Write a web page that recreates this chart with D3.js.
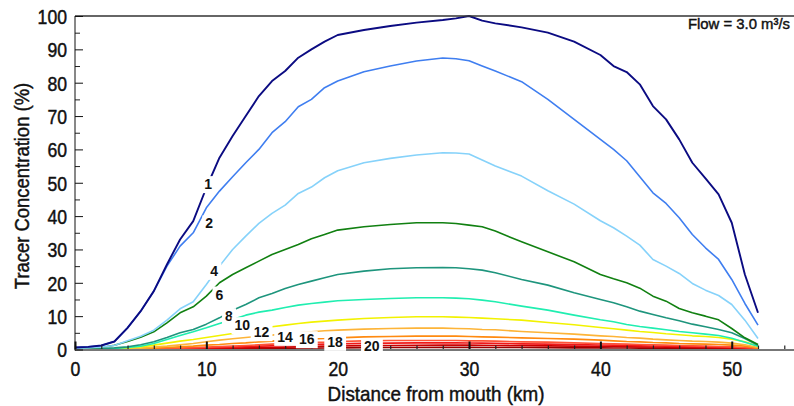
<!DOCTYPE html>
<html>
<head>
<meta charset="utf-8">
<script src="https://cdn.jsdelivr.net/npm/d3@7"></script>
<style>
  html, body { margin: 0; padding: 0; background: #fff; }
  svg { display: block; }
  .cond { font-family: "Liberation Sans", Arial, sans-serif; stroke: #111; stroke-width: 0.45px; }
</style>
</head>
<body>
<svg id="chart" width="794" height="406"></svg>
<script>
// Distance along the estuary (km) at which the tracer was sampled
const distanceKm = [0,1,2,3,4,5,6,7,8,9,10,11,12,13,14,15,16,17,18,19,20,
                    22,24,26,28,29,30,31,32,34,36,38,40,
                    41,42,43,44,45,46,47,48,49,50,51,52];

// Tracer concentration (%) for each contour (day number)
const conc1  = [0.6,0.8,1.2,2.4,6.5,11.5,17.5,25.5,33,38.5,48.5,57.5,64,70,76,80.5,83.5,87.5,90,92.3,94.3,
                95.8,97,98,98.8,99.3,100,98.6,97.8,96.6,95,92.3,88.3,
                85,83.2,79.5,73,69,63,56,51.3,46.5,38,22.5,11];
const conc2  = [0.6,0.8,1.2,2.4,6.5,11.5,17.5,25,31,35,42.5,47.5,51.8,56,60,65,68.3,72.8,75,78.5,80.5,
                83.3,85,86.5,87.4,87.2,86.6,85,83.5,80.3,75,69,63,
                60,56.6,51.8,47,43.8,39.5,34.5,30.5,27,21,13.8,7.3];
const conc4  = [0.4,0.5,0.7,1.2,2.6,4,5.8,8.8,12.2,14.3,19.5,25,30,34,37.8,40.8,43.3,46.8,48.7,51.5,53.6,
                56,57.3,58.3,59,58.9,58.6,56.8,55,52,47.6,43.6,38.6,
                36.5,34,31.3,27,25,22.8,19.8,17.8,16.2,13.5,8.8,3.3];
const conc6  = [0.2,0.3,0.6,1.3,2.4,3.7,5.3,8,11,12.8,16,20,22.5,24.5,26.5,28.5,30,31.5,33.2,34.5,35.8,
                36.8,37.5,38,38,37.8,37.3,36.8,35.5,32.3,29.3,26.3,22.5,
                21.2,20,18.4,16,14.5,12.3,11,10,8.9,6.3,3.5,1.5];
const conc8  = [0.1,0.2,0.3,0.5,0.8,1.4,2.3,3.6,5,6,7.6,9.5,11.8,13.5,15.5,16.8,18.3,19.5,20.5,21.5,22.5,
                23.5,24.2,24.5,24.6,24.5,24.2,23.8,23,21,19.3,17,15,
                14,12.8,11.5,10.5,9.5,8.6,7.6,6.8,6,5,3.3,1.3];
const conc10 = [0.1,0.1,0.2,0.3,0.6,1,1.8,3,4.2,5.3,6.5,7.8,9,10.3,11.2,11.8,12.6,13.3,13.8,14.2,14.6,
                15,15.3,15.5,15.5,15.4,15.2,14.8,14.3,13,11.8,10.3,8.9,
                8.3,7.5,6.9,6.4,5.9,5.4,5,4.6,4.2,3.4,2.2,1];
const conc12 = [0,0.05,0.1,0.2,0.5,0.8,1.3,1.9,2.5,3,3.6,4.2,4.8,5.5,6.2,6.8,7.3,7.8,8.2,8.5,8.8,
                9.3,9.6,9.8,9.8,9.7,9.6,9.4,9.2,8.8,8.1,7.4,6.6,
                6.2,5.8,5.4,5.1,4.7,4.4,4.1,3.9,3.6,3.1,2.3,1];
const conc14 = [0,0,0.05,0.1,0.2,0.4,0.7,1,1.4,1.8,2.3,2.8,3.2,3.6,4,4.3,4.7,5,5.3,5.6,5.8,
                6.1,6.3,6.4,6.4,6.3,6.2,6,5.9,5.4,5,4.6,4.1,
                3.9,3.6,3.4,3.1,2.9,2.7,2.5,2.4,2.2,1.9,1.4,0.6];
const conc16 = [0,0,0,0.05,0.1,0.2,0.4,0.6,0.8,1,1.3,1.5,1.8,2,2.3,2.5,2.8,3,3.2,3.3,3.5,
                3.8,3.9,4,4,4,3.9,3.8,3.7,3.5,3.3,3.1,2.8,
                2.6,2.4,2.3,2.1,2,1.8,1.7,1.6,1.5,1.3,1,0.4];
const conc18 = [0,0,0,0,0.05,0.1,0.2,0.3,0.4,0.55,0.7,0.85,1,1.2,1.4,1.6,1.8,1.9,2.1,2.2,2.4,
                2.6,2.7,2.7,2.7,2.7,2.6,2.6,2.5,2.3,2.2,2,1.8,
                1.7,1.6,1.5,1.4,1.3,1.2,1.1,1,0.9,0.8,0.6,0.3];
const conc20 = [0,0,0,0,0,0.05,0.1,0.2,0.3,0.4,0.5,0.6,0.7,0.85,1,1.1,1.2,1.35,1.5,1.6,1.7,
                1.85,1.9,2,2,2,1.95,1.9,1.85,1.7,1.6,1.5,1.35,
                1.3,1.2,1.1,1.05,1,0.9,0.85,0.8,0.7,0.6,0.45,0.2];
const conc22 = [0,0,0,0,0,0,0.05,0.1,0.15,0.2,0.25,0.3,0.4,0.5,0.55,0.6,0.7,0.8,0.9,1,1.05,
                1.15,1.2,1.25,1.3,1.3,1.3,1.25,1.2,1.15,1.1,1,0.95,
                0.9,0.85,0.8,0.75,0.7,0.65,0.6,0.55,0.5,0.4,0.3,0.1];
const conc24 = [0,0,0,0,0,0,0,0.05,0.05,0.1,0.1,0.15,0.2,0.2,0.25,0.3,0.3,0.35,0.4,0.45,0.5,
                0.55,0.6,0.6,0.65,0.65,0.65,0.6,0.6,0.6,0.55,0.5,0.5,
                0.45,0.45,0.4,0.4,0.35,0.35,0.3,0.3,0.25,0.2,0.15,0.05];

const dayLabels  = ["1","2","4","6","8","10","12","14","16","18","20","",""];
const lineColors = ["#0b0b82","#3f7ef0","#86d2fa","#118011","#1e957d","#20eeb0",
                    "#f2f200","#fdb438","#ff8a10","#ff5236","#ef1818","#cc0000","#9a0000"];
const series = [conc1,conc2,conc4,conc6,conc8,conc10,conc12,conc14,conc16,conc18,conc20,conc22,conc24];

// Where each day number sits along its contour (km, %)
const labelKm  = [10.14,10.22,10.6,10.99,11.72,12.74,14.2,15.99,17.64,19.8,22.6];
const labelPct = [49.6,37.8,23.6,16.5,10.0,7.3,5.2,3.8,3.1,2.3,1.0];

const xMajor = [0,10,20,30,40,50];
const yMajor = [0,10,20,30,40,50,60,70,80,90,100];

const svg = d3.select("#chart");
const W = 794, H = 406;
const plotLeft = 75, plotTop = 16, plotBottom = 349.5;
const SQ = 0.86;   // horizontal squeeze for the condensed lettering

const x = d3.scaleLinear().domain([0, 54.74]).range([plotLeft, W]);
const y = d3.scaleLinear().domain([0, 100]).range([plotBottom, plotTop]);

// contour lines, highest day number first so day 1 sits on top
const line = d3.line().x((d, i) => x(distanceKm[i])).y(d => y(d));
const gLines = svg.append("g");
series.map((s, i) => ({ s, i })).reverse().forEach(({ s, i }) => {
  gLines.append("path")
    .datum(s)
    .attr("d", line)
    .attr("fill", "none")
    .attr("stroke", lineColors[i])
    .attr("stroke-width", i === 0 ? 1.9 : 1.6)
    .attr("stroke-linejoin", "round");
});

// frame: top border
svg.append("line")
  .attr("x1", plotLeft).attr("x2", W).attr("y1", plotTop).attr("y2", plotTop)
  .attr("stroke", "#333").attr("stroke-width", 1.3);

// x axis (ticks point into the plot)
const gxMinor = svg.append("g").attr("transform", `translate(0,${plotBottom})`)
  .call(d3.axisBottom(x).tickValues(d3.range(0, 55, 2)).tickSize(-4).tickFormat(""));
gxMinor.select(".domain").remove();
gxMinor.selectAll(".tick line").attr("stroke", "#222").attr("stroke-width", 1.2);

const gx = svg.append("g").attr("transform", `translate(0,${plotBottom})`)
  .call(d3.axisBottom(x).tickValues(xMajor).tickSize(-8).tickPadding(0).tickFormat(d3.format("d")));
gx.select(".domain").remove();
gx.selectAll(".tick line").attr("stroke", "#111").attr("stroke-width", 2);
gx.selectAll(".tick text")
  .attr("class", "cond")
  .attr("font-size", 20.5).attr("fill", "#111")
  .attr("y", 12).attr("dy", "0.71em")
  .attr("transform", `scale(${SQ},1)`);

svg.append("line")
  .attr("x1", plotLeft).attr("x2", W).attr("y1", plotBottom + 0.5).attr("y2", plotBottom + 0.5)
  .attr("stroke", "#777").attr("stroke-width", 2);

// y axis (ticks point into the plot)
const gyMinor = svg.append("g").attr("transform", `translate(${plotLeft},0)`)
  .call(d3.axisLeft(y).tickValues(d3.range(5, 100, 10)).tickSize(-5).tickFormat(""));
gyMinor.select(".domain").remove();
gyMinor.selectAll(".tick line").attr("stroke", "#222");

const gy = svg.append("g").attr("transform", `translate(${plotLeft},0)`)
  .call(d3.axisLeft(y).tickValues(yMajor).tickSize(-8).tickPadding(0).tickFormat(d3.format("d")));
gy.select(".domain").attr("stroke", "#111").attr("d", `M0,${plotTop}V${plotBottom + 1}`);
gy.selectAll(".tick line").attr("stroke", "#111");
gy.selectAll(".tick text")
  .attr("class", "cond")
  .attr("font-size", 20.5).attr("fill", "#111")
  .attr("x", -8 / SQ).attr("dy", "0.36em")
  .attr("transform", `scale(${SQ},1)`);

// contour labels on white backing
const gLab = svg.append("g");
labelKm.forEach((km, i) => {
  const g = gLab.append("g").attr("transform", `translate(${x(km)},${y(labelPct[i])})`);
  const t = g.append("text")
    .attr("text-anchor", "middle").attr("dy", "0.36em")
    .attr("font-family", "'Liberation Sans', Arial, sans-serif")
    .attr("font-weight", "bold").attr("font-size", 14).attr("fill", "#111")
    .text(dayLabels[i]);
  const b = t.node().getBBox();
  g.insert("rect", "text")
    .attr("x", b.x - 3).attr("y", b.y).attr("width", b.width + 6).attr("height", b.height + 1)
    .attr("fill", "#fff");
});

// free-standing condensed text
function condText(px, py, txt, size, anchor, rotate, sq) {
  svg.append("text").attr("class", "cond")
    .attr("transform", `translate(${px},${py})${rotate ? " rotate(-90)" : ""} scale(${sq},1)`)
    .attr("text-anchor", anchor).attr("font-size", size).attr("fill", "#111")
    .text(txt);
}
condText(436, 401, "Distance from mouth (km)", 20.5, "middle", false, 0.92);
condText(29, 186, "Tracer Concentration (%)", 20.5, "middle", true, 0.9);
condText(790, 29, "Flow = 3.0 m³/s", 15.5, "end", false, 0.96);
</script>
</body>
</html>
